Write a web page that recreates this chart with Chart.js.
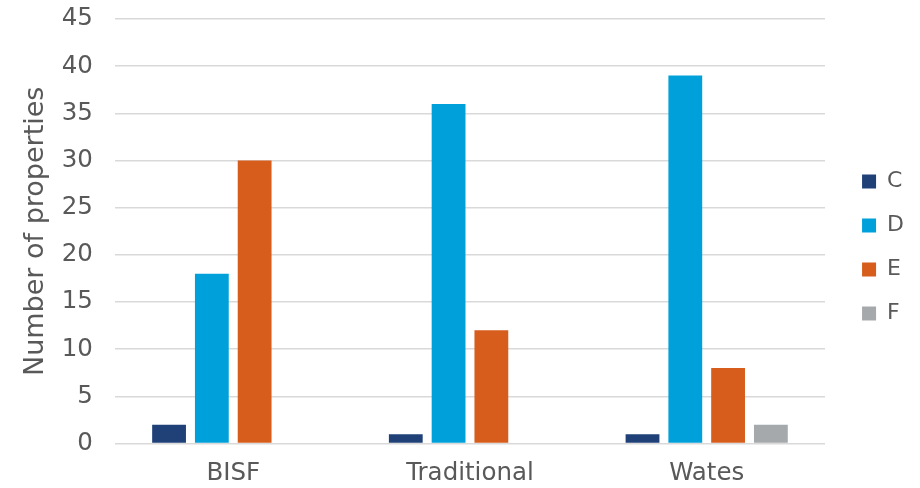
<!DOCTYPE html>
<html>
<head>
<meta charset="utf-8">
<script src="https://cdn.jsdelivr.net/npm/chart.js@4/dist/chart.umd.min.js"></script>
<style>
  html, body { margin: 0; padding: 0; background: #ffffff; }
  #wrap { width: 920px; height: 488px; }
</style>
</head>
<body>
<div id="wrap"><canvas id="chart" width="920" height="488"></canvas></div>
<script>
// Property counts by construction type and EPC band
const categories = ['BISF', 'Traditional', 'Wates'];
const bandC = [2, 1, 1];
const bandD = [18, 36, 39];
const bandE = [30, 12, 8];
const bandF = [0, 0, 2];
const yTicks = [0, 5, 10, 15, 20, 25, 30, 35, 40, 45];

const colours = { C: '#1F4178', D: '#00A1DA', E: '#D65D1C', F: '#A5A9AC' };

const family = 'Verdana, "DejaVu Sans", sans-serif';
const tickFont = { family: family, size: 24.5 };

new Chart(document.getElementById('chart'), {
  type: 'bar',
  data: {
    labels: categories,
    datasets: [
      { label: 'C', data: bandC, backgroundColor: colours.C },
      { label: 'D', data: bandD, backgroundColor: colours.D },
      { label: 'E', data: bandE, backgroundColor: colours.E },
      { label: 'F', data: bandF, backgroundColor: colours.F }
    ]
  },
  options: {
    responsive: false,
    animation: false,
    layout: { padding: { top: 7, right: 6, bottom: 0, left: 20 } },
    datasets: { bar: { categoryPercentage: 0.723, barPercentage: 0.79 } },
    scales: {
      x: {
        grid: { display: false, drawTicks: true, tickLength: 15 },
        border: { display: false },
        ticks: { color: '#595959', font: tickFont, padding: 0 }
      },
      y: {
        min: 0,
        max: 45,
        afterBuildTicks: (axis) => { axis.ticks = yTicks.map(v => ({ value: v })); },
        grid: { color: '#D9D9D9', lineWidth: 1.5, drawTicks: true, tickLength: 17.7, tickColor: 'rgba(0,0,0,0)' },
        border: { display: false },
        ticks: { color: '#595959', font: tickFont, padding: 4.3 },
        title: {
          display: true,
          text: 'Number of properties',
          color: '#595959',
          font: { family: family, size: 27 },
          padding: { top: 0, bottom: 5 }
        }
      },
      // empty spacer between the plot and the legend
      gap: {
        position: 'right',
        min: 0,
        max: 45,
        grid: { display: false, drawTicks: false },
        border: { display: false },
        ticks: { display: false },
        afterFit: (scale) => { scale.width = 15; }
      }
    },
    plugins: {
      legend: {
        position: 'right',
        labels: {
          color: '#595959',
          font: { family: family, size: 22 },
          boxWidth: 14,
          boxHeight: 14,
          padding: 22
        }
      },
      tooltip: { enabled: false }
    }
  }
});
</script>
</body>
</html>
